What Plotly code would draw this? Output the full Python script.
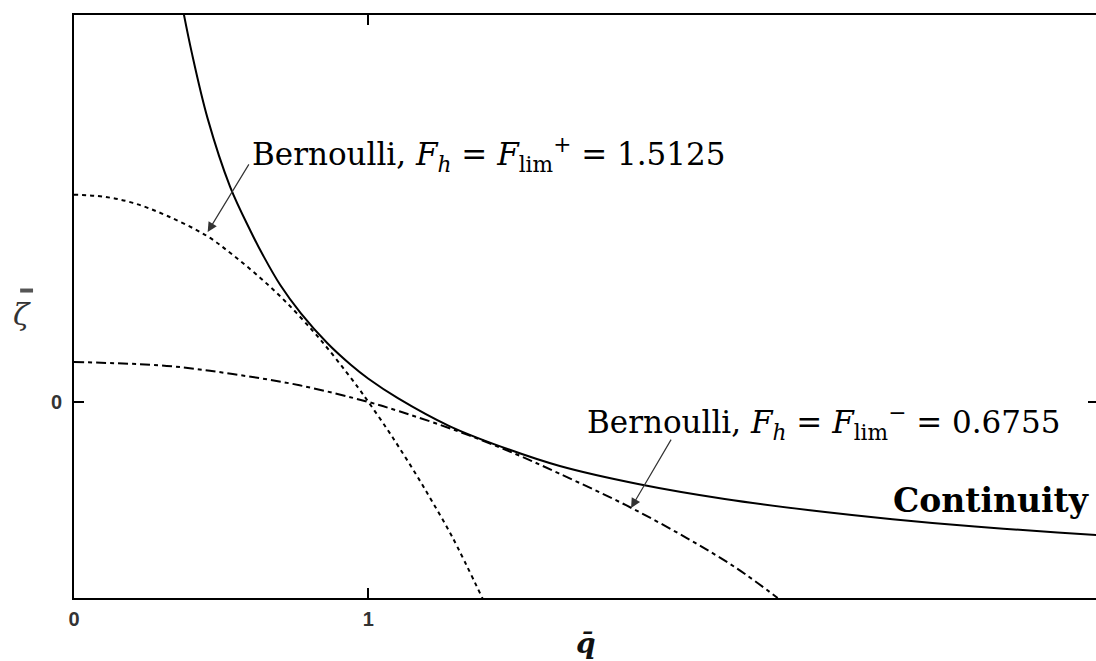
import plotly.graph_objects as go

# ---- data ----
continuity_q = [0.36, 0.40, 0.454, 0.53, 0.60, 0.642, 0.70, 0.77, 0.86, 0.94, 1.00, 1.10, 1.275,
                1.45, 1.65, 1.92, 2.21, 2.50, 2.78, 3.06, 3.34, 3.48]
continuity_z = [1.05, 0.90, 0.73, 0.555, 0.44, 0.378, 0.302, 0.229, 0.152, 0.096, 0.060, 0.010,
                -0.062, -0.115, -0.165, -0.212, -0.250, -0.279, -0.302, -0.321, -0.336, -0.343]

bern_plus_q = [0.0, 0.1, 0.2, 0.315, 0.451, 0.539, 0.631, 0.722, 0.81, 0.868, 0.925, 0.969, 1.0,
               1.061, 1.105, 1.163, 1.217, 1.285, 1.39]
bern_plus_z = [0.534, 0.529, 0.513, 0.480, 0.428, 0.379, 0.321, 0.256, 0.184, 0.132, 0.077, 0.033,
               0.0, -0.067, -0.118, -0.188, -0.257, -0.348, -0.51]

bern_minus_q = [0.0, 0.315, 0.539, 0.766, 1.0, 1.105, 1.217, 1.342, 1.50, 1.647, 1.875, 2.08,
                2.25, 2.39]
bern_minus_z = [0.103, 0.093, 0.072, 0.043, 0.0, -0.024, -0.052, -0.086, -0.134, -0.184, -0.266,
                -0.350, -0.428, -0.505]

x_ticks = [0, 1]
x_tick_labels = ["0", "1"]
y_ticks = [0]
y_tick_labels = ["0"]

label_plus = "Bernoulli, <i>F<sub>h</sub></i> = <i>F</i><sub>lim</sub><sup>+</sup> = 1.5125"
label_minus = "Bernoulli, <i>F<sub>h</sub></i> = <i>F</i><sub>lim</sub><sup>\u2212</sup> = 0.6755"
label_cont = "<b>Continuity</b>"

label_plus_pos = (0.597, 0.637)
arrow_plus_head = (0.454, 0.438)
arrow_plus_tail = (0.597, 0.616)
label_minus_pos = (1.736, -0.054)
arrow_minus_head = (1.892, -0.273)
arrow_minus_tail = (2.031, -0.093)
label_cont_pos = (2.776, -0.253)

x_range = [0, 3.478]
y_range = [-0.505, 0.997]

SERIF = "DejaVu Serif, Liberation Serif, serif"
SANS = "Liberation Sans, Arial, sans-serif"

fig = go.Figure()
fig.add_trace(go.Scatter(x=continuity_q, y=continuity_z, mode="lines",
                         line=dict(color="black", width=2, shape="spline", smoothing=1.0),
                         showlegend=False))
fig.add_trace(go.Scatter(x=bern_plus_q, y=bern_plus_z, mode="lines",
                         line=dict(color="black", width=2, dash="4px,4px", shape="spline"),
                         showlegend=False))
fig.add_trace(go.Scatter(x=bern_minus_q, y=bern_minus_z, mode="lines",
                         line=dict(color="black", width=2, dash="10px,4px,4px,4px", shape="spline"),
                         showlegend=False))

annotations = [
    dict(x=label_plus_pos[0], y=label_plus_pos[1], text=label_plus, showarrow=False,
         xanchor="left", yanchor="middle", font=dict(family=SERIF, size=31, color="black")),
    dict(x=arrow_plus_head[0], y=arrow_plus_head[1], ax=arrow_plus_tail[0], ay=arrow_plus_tail[1],
         axref="x", ayref="y", text="", showarrow=True, arrowhead=2, arrowsize=1.6,
         arrowwidth=1.2, arrowcolor="#333"),
    dict(x=label_minus_pos[0], y=label_minus_pos[1], text=label_minus, showarrow=False,
         xanchor="left", yanchor="middle", font=dict(family=SERIF, size=31, color="black")),
    dict(x=arrow_minus_head[0], y=arrow_minus_head[1], ax=arrow_minus_tail[0], ay=arrow_minus_tail[1],
         axref="x", ayref="y", text="", showarrow=True, arrowhead=2, arrowsize=1.6,
         arrowwidth=1.2, arrowcolor="#333"),
    dict(x=label_cont_pos[0], y=label_cont_pos[1], text=label_cont, showarrow=False,
         xanchor="left", yanchor="middle", font=dict(family=SERIF, size=33, color="black")),
    dict(xref="paper", yref="paper", x=0.5, y=-0.078, text="<i><b>q\u0304</b></i>", showarrow=False,
         xanchor="center", yanchor="middle", font=dict(family=SERIF, size=28, color="#111")),
    dict(xref="paper", yref="paper", x=-0.051, y=0.487, text="<i>\u03b6</i>", showarrow=False,
         xanchor="center", yanchor="middle",
         font=dict(family=SERIF, size=30, color="#333")),
]

# overbar of the y-axis symbol (zeta-bar)
shapes = [dict(type="line", xref="paper", yref="paper", x0=-0.0526, x1=-0.040,
               y0=0.5274, y1=0.5274, line=dict(color="#555", width=4))]

axis_common = dict(showgrid=False, zeroline=False, showline=True, linecolor="black",
                   linewidth=2, mirror="ticks", ticks="inside", ticklen=10, tickwidth=2,
                   tickcolor="black",
                   tickfont=dict(family=SANS, size=20, color="#333", weight="bold"))

fig.update_layout(
    width=1100, height=661,
    margin=dict(l=74, r=0, t=15, b=63),
    paper_bgcolor="white", plot_bgcolor="white",
    annotations=annotations,
    shapes=shapes,
    xaxis=dict(range=x_range, tickvals=x_ticks, ticktext=x_tick_labels, ticklabelstandoff=2,
               **axis_common),
    yaxis=dict(range=y_range, tickvals=y_ticks, ticktext=y_tick_labels, ticklabelstandoff=6,
               **axis_common),
)

fig.write_html(
    "out.html",
    config={"displayModeBar": False},
    post_script="document.documentElement.style.overflow='hidden';"
                "document.body.style.margin='0';document.body.style.overflow='hidden';",
)
